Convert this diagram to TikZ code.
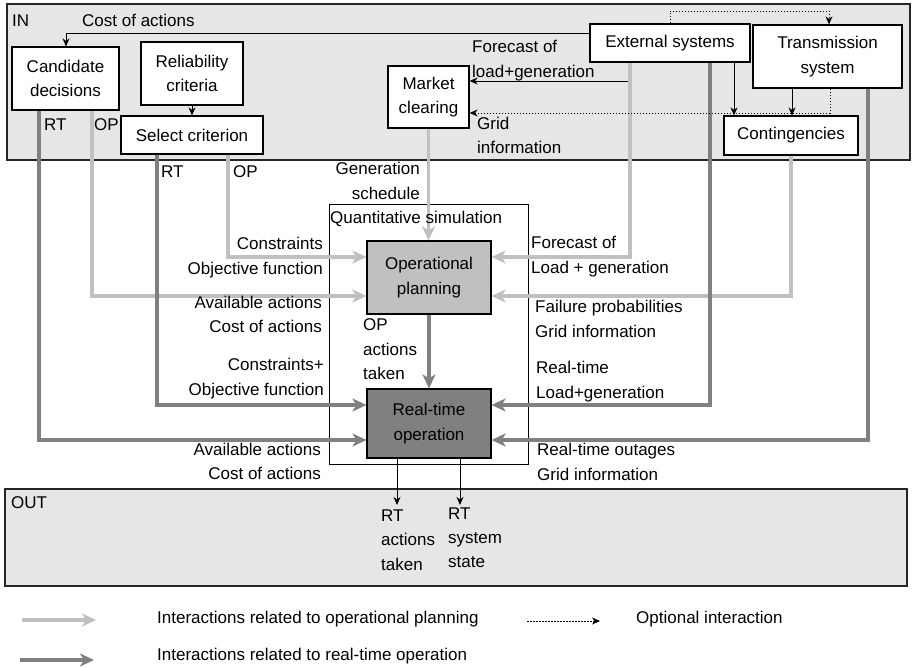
\documentclass[tikz,border=0pt]{standalone}
\usepackage{fontspec}
\setmainfont{Liberation Sans}
\usetikzlibrary{arrows.meta}
\definecolor{oplight}{HTML}{C0C0C0}
\definecolor{rtdark}{HTML}{808080}
\definecolor{panel}{HTML}{E6E6E6}
\begin{document}
\begin{tikzpicture}[x=1pt,y=-1pt,
  font=\fontsize{17}{24.5}\selectfont,
  box/.style={draw=black,line width=1.2pt,fill=white,align=center,inner sep=0pt},
  panelbox/.style={draw=black!85,line width=1.4pt,fill=panel},
  lbl/.style={inner sep=0pt},
  opline/.style={draw=oplight,line width=3.5pt,-{Stealth[length=14pt,width=13pt,inset=4pt,fill=oplight]}},
  rtline/.style={draw=rtdark,line width=3.5pt,-{Stealth[length=14pt,width=13pt,inset=4pt,fill=rtdark]}},
  blk/.style={draw=black,line width=1pt,-{Stealth[length=8pt,width=7pt,inset=2.5pt]}},
  opt/.style={blk,dash pattern=on 1.5pt off 1.5pt}
]
\useasboundingbox (0,0) rectangle (912,667);

% input and output panels
\path[panelbox] (7,4) rectangle (910,160);
\path[panelbox] (5,489) rectangle (907,586);

% simulation frame
\draw[line width=1pt] (329,204) rectangle (528,464);

% reference x and y positions of the connectors
\coordinate (xcRT) at (39,0);
\coordinate (xcOP) at (92,0);
\coordinate (xsRT) at (157,0);
\coordinate (xsOP) at (228,0);
\coordinate (xeOP) at (630,0);
\coordinate (xeRT) at (710,0);
\coordinate (xtRT) at (868,0);
\coordinate (xcost) at (66,0);
\coordinate (xec) at (734,0);
\coordinate (xtc) at (792,0);
\coordinate (xd1) at (670,0);
\coordinate (xd2) at (829,0);
\coordinate (xd3) at (830,0);
\coordinate (yA) at (0,257);
\coordinate (yB) at (0,296);
\coordinate (yC) at (0,405);
\coordinate (yD) at (0,440);
\coordinate (ycost) at (0,33);
\coordinate (yfc) at (0,81);
\coordinate (ygrid) at (0,113);
\coordinate (ytop) at (0,11);
\coordinate (outA) at (397,505);
\coordinate (outB) at (460,505);

% boxes
\node[box,minimum width=107pt,minimum height=63pt] (cand) at (65.5,78.5) {Candidate\\decisions};
\node[box,minimum width=102pt,minimum height=63pt] (rel) at (192,73.5) {Reliability\\criteria};
\node[box,minimum width=142pt,minimum height=38pt] (sel) at (192,135) {Select criterion};
\node[box,minimum width=81pt,minimum height=62pt] (mkt) at (428.5,97) {Market\\clearing};
\node[box,minimum width=160pt,minimum height=38pt] (ext) at (670,43) {External systems};
\node[box,minimum width=149pt,minimum height=63pt] (trans) at (827.5,56.5) {Transmission\\system};
\node[box,minimum width=134pt,minimum height=39pt] (cont) at (791,135.5) {Contingencies};
\node[box,fill=oplight,minimum width=124pt,minimum height=73pt] (op) at (429,277.5) {Operational\\planning};
\node[box,fill=rtdark,minimum width=124pt,minimum height=69pt] (rt) at (429,423.5) {Real-time\\operation};

% operational planning interactions
\draw[opline] (cand.south -| xcOP) |- (op.west |- yB);
\draw[opline] (sel.south -| xsOP) |- (op.west |- yA);
\draw[opline] (mkt.south) -- (mkt.south |- op.north);
\draw[opline] (ext.south -| xeOP) |- (op.east |- yA);
\draw[opline] (cont.south) |- (op.east |- yB);

% real-time operation interactions
\draw[rtline] (cand.south -| xcRT) |- (rt.west |- yD);
\draw[rtline] (sel.south -| xsRT) |- (rt.west |- yC);
\draw[rtline] (op.south) -- (rt.north);
\draw[rtline] (ext.south -| xeRT) |- (rt.east |- yC);
\draw[rtline] (trans.south -| xtRT) |- (rt.east |- yD);

% input-side links
\draw[blk] (ext.west |- ycost) -| (cand.north -| xcost);
\draw[blk] (rel.south) -- (sel.north);
\draw[blk] ([xshift=-2pt]xeOP |- yfc) -- (mkt.east |- yfc);
\draw[blk] (ext.south -| xec) -- (cont.north -| xec);
\draw[blk] (trans.south -| xtc) -- (cont.north -| xtc);
\draw[opt] (ext.north -| xd1) -- (xd1 |- ytop) -| (trans.north -| xd2);
\draw[opt] (trans.south -| xd3) |- (mkt.east |- ygrid);

% outputs
\draw[blk] (rt.south -| outA) -- (outA);
\draw[blk] (rt.south -| outB) -- (outB);

% labels
\node[lbl,anchor=base west] (tIN) at (12,26) {IN};
\node[lbl,anchor=base west] (tcost) at (82,26) {Cost of actions};
\node[lbl,anchor=base west] (tfc1) at (472,52) {Forecast of};
\node[lbl,anchor=base west] (tfc2) at (472,77) {load+generation};
\node[lbl,anchor=base west] (tgr1) at (477,129) {Grid};
\node[lbl,anchor=base west] (tgr2) at (477,153) {information};
\node[lbl,anchor=base west] (tcRT) at (44,130) {RT};
\node[lbl,anchor=base west] (tcOP) at (94,130) {OP};
\node[lbl,anchor=base west] (tsRT) at (161,177) {RT};
\node[lbl,anchor=base west] (tsOP) at (233,177) {OP};
\node[lbl,anchor=base east] (tgen1) at (420,174) {Generation};
\node[lbl,anchor=base east] (tgen2) at (420,199) {schedule};
\node[lbl,anchor=base west] (tqs) at (330,223) {Quantitative simulation};

\node[lbl,anchor=base east] (tl1) at (323,249) {Constraints};
\node[lbl,anchor=base east] (tl2) at (323,274) {Objective function};
\node[lbl,anchor=base east] (tl3) at (322,308) {Available actions};
\node[lbl,anchor=base east] (tl4) at (322,332) {Cost of actions};
\node[lbl,anchor=base east] (tl5) at (324,370) {Constraints+};
\node[lbl,anchor=base east] (tl6) at (324,395) {Objective function};
\node[lbl,anchor=base east] (tl7) at (321,455) {Available actions};
\node[lbl,anchor=base east] (tl8) at (321,479) {Cost of actions};

\node[lbl,anchor=base west] (tm1) at (363,330) {OP};
\node[lbl,anchor=base west] (tm2) at (363,355) {actions};
\node[lbl,anchor=base west] (tm3) at (363,379) {taken};

\node[lbl,anchor=base west] (tr1) at (531,248) {Forecast of};
\node[lbl,anchor=base west] (tr2) at (531,273) {Load + generation};
\node[lbl,anchor=base west] (tr3) at (535,312) {Failure probabilities};
\node[lbl,anchor=base west] (tr4) at (535,337) {Grid information};
\node[lbl,anchor=base west] (tr5) at (536,373) {Real-time};
\node[lbl,anchor=base west] (tr6) at (536,398) {Load+generation};
\node[lbl,anchor=base west] (tr7) at (537,455) {Real-time outages};
\node[lbl,anchor=base west] (tr8) at (537,480) {Grid information};

\node[lbl,anchor=base west] (tOUT) at (11,508) {OUT};
\node[lbl,anchor=base west] (to1) at (381,521) {RT};
\node[lbl,anchor=base west] (to2) at (381,545) {actions};
\node[lbl,anchor=base west] (to3) at (381,570) {taken};
\node[lbl,anchor=base west] (to4) at (448,519) {RT};
\node[lbl,anchor=base west] (to5) at (448,543) {system};
\node[lbl,anchor=base west] (to6) at (448,567) {state};

% legend
\coordinate (legA1) at (22,620);
\coordinate (legA2) at (96,620);
\coordinate (legB1) at (20,660);
\coordinate (legB2) at (94,660);
\coordinate (legC1) at (527,621);
\coordinate (legC2) at (600,621);
\draw[opline] (legA1) -- (legA2);
\draw[rtline] (legB1) -- (legB2);
\draw[opt] (legC1) -- (legC2);
\node[lbl,anchor=base west] (tlegA) at (157,623) {Interactions related to operational planning};
\node[lbl,anchor=base west] (tlegB) at (157,660) {Interactions related to real-time operation};
\node[lbl,anchor=base west] (tlegC) at (636,623) {Optional interaction};
\end{tikzpicture}
\end{document}
